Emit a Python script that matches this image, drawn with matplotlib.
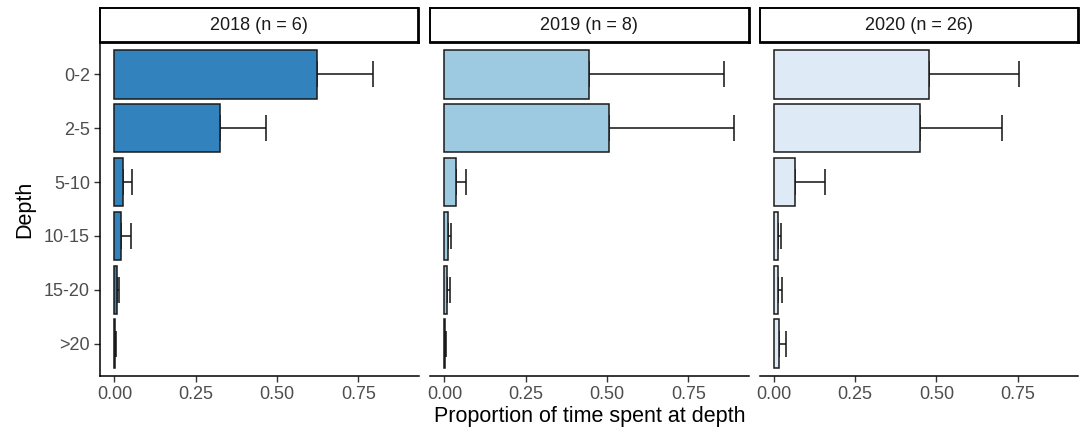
import matplotlib
matplotlib.use("Agg")
import matplotlib.pyplot as plt
import numpy as np

plt.rcParams['font.family'] = ['Liberation Sans', 'DejaVu Sans']

depths = ['0-2', '2-5', '5-10', '10-15', '15-20', '>20']
years = ['2018 (n = 6)', '2019 (n = 8)', '2020 (n = 26)']
colors = ['#3182bd', '#9ecae1', '#deebf7']

mean_2018 = [0.622, 0.326, 0.027, 0.019, 0.007, 0.002]
upper_2018 = [0.794, 0.466, 0.054, 0.050, 0.015, 0.004]
mean_2019 = [0.446, 0.507, 0.035, 0.011, 0.008, 0.003]
upper_2019 = [0.859, 0.891, 0.065, 0.020, 0.017, 0.005]
mean_2020 = [0.477, 0.450, 0.064, 0.011, 0.011, 0.015]
upper_2020 = [0.755, 0.703, 0.156, 0.021, 0.025, 0.037]

means = [mean_2018, mean_2019, mean_2020]
uppers = [upper_2018, upper_2019, upper_2020]

W, H = 1080, 432
fig = plt.figure(figsize=(W / 100, H / 100), dpi=100)

panel_left = [100, 430, 759.5]
panel_w = 318.5
ax_top, ax_bot = 42, 376
strip_top = 8

xmax = 0.891
xlim = (-0.05 * xmax, 1.05 * xmax)
ypos = np.arange(len(depths))

for i in range(3):
    x0 = panel_left[i]
    ax = fig.add_axes([x0 / W, (H - ax_bot) / H, panel_w / W, (ax_bot - ax_top) / H])
    m = np.array(means[i])
    up = np.array(uppers[i])
    ax.errorbar(m, ypos, xerr=[np.zeros_like(m), up - m], fmt='none',
                ecolor='#111111', elinewidth=1.1, capsize=9.4, capthick=1.1, zorder=1)
    ax.barh(ypos, m, height=0.9, color=colors[i], edgecolor='#1a1a1a',
            linewidth=1.1, zorder=2)
    ax.set_xlim(*xlim)
    ax.set_ylim(len(depths) - 0.4, -0.6)
    ax.set_xticks([0, 0.25, 0.5, 0.75])
    ax.set_xticklabels(['0.00', '0.25', '0.50', '0.75'])
    ax.tick_params(axis='both', colors='#333333', labelcolor='#4d4d4d',
                   labelsize=13, length=4.3, width=1.0, pad=3)
    for s in ['top', 'right']:
        ax.spines[s].set_visible(False)
    ax.spines['bottom'].set_linewidth(1.1)
    ax.spines['bottom'].set_color('black')
    if i == 0:
        ax.set_yticks(ypos)
        ax.set_yticklabels(depths)
        ax.spines['left'].set_linewidth(1.1)
        ax.spines['left'].set_color('black')
        ax.set_ylabel('Depth', fontsize=15.5, labelpad=6)
    else:
        ax.spines['left'].set_visible(False)
        ax.set_yticks([])
    if i == 1:
        ax.set_xlabel('Proportion of time spent at depth', fontsize=15.5, labelpad=2)

    sx = fig.add_axes([x0 / W, (H - ax_top) / H, panel_w / W, (ax_top - strip_top) / H])
    sx.set_xticks([])
    sx.set_yticks([])
    for s in sx.spines.values():
        s.set_linewidth(1.4)
        s.set_color('black')
    sx.spines['right'].set_linewidth(2.0)
    sx.spines['bottom'].set_linewidth(2.0)
    sx.text(0.5, 0.5, years[i], ha='center', va='center', fontsize=13,
            color='#1a1a1a', transform=sx.transAxes)

fig.savefig('out.png', dpi=100)
